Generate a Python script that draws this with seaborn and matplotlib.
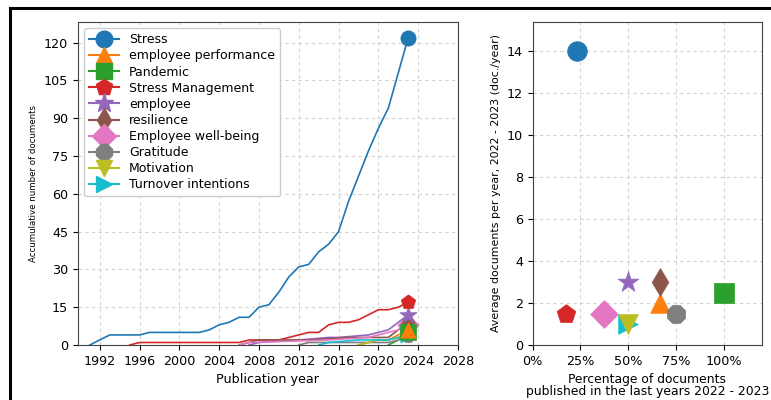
import numpy as np
import pandas as pd
import matplotlib
matplotlib.use("Agg")
import matplotlib.pyplot as plt
from matplotlib.lines import Line2D
from matplotlib.ticker import PercentFormatter
import seaborn as sns

# Keyword names, colours and marker styles
keywords = ["Stress", "employee performance", "Pandemic", "Stress Management",
            "employee", "resilience", "Employee well-being", "Gratitude",
            "Motivation", "Turnover intentions"]
colors = ["#1f77b4", "#ff7f0e", "#2ca02c", "#d62728", "#9467bd",
          "#8c564b", "#e377c2", "#7f7f7f", "#bcbd22", "#17becf"]
markers = ["o", "^", "s", "p", "*", "d", "D", "8", "v", ">"]

# Cumulative document counts per publication year
stress_years = list(range(1991, 2024))
stress_cum = [0, 2, 4, 4, 4, 4, 5, 5, 5, 5, 5, 5, 6, 8, 9, 11, 11, 15, 16, 21,
              27, 31, 32, 37, 40, 45, 57, 67, 77, 86, 94, 108, 122]

perf_years = [2018, 2019, 2020, 2021, 2022, 2023]
perf_cum = [0, 1, 2, 2, 4, 6]

pandemic_years = [2021, 2022, 2023]
pandemic_cum = [0, 2, 5]

stressmgmt_years = list(range(1995, 2024))
stressmgmt_cum = [0, 1, 1, 1, 1, 1, 1, 1, 1, 1, 1, 1, 2, 2, 2, 2, 3, 4, 5, 5,
                  8, 9, 9, 10, 12, 14, 14, 15, 17]

employee_years = [2007, 2008, 2012, 2015, 2016, 2019, 2020, 2021, 2022, 2023]
employee_cum = [0, 1, 2, 3, 3, 4, 5, 6, 9, 12]

resilience_years = [2006, 2007, 2008, 2013, 2017, 2021, 2022, 2023]
resilience_cum = [0, 1, 2, 2, 3, 3, 6, 9]

wellbeing_years = [2006, 2007, 2015, 2019, 2020, 2021, 2022, 2023]
wellbeing_cum = [0, 1, 2, 3, 4, 5, 6, 8]

gratitude_years = [2012, 2013, 2021, 2022, 2023]
gratitude_cum = [0, 1, 1, 2, 4]

motivation_years = [2018, 2019, 2020, 2021, 2022, 2023]
motivation_cum = [0, 1, 2, 2, 3, 4]

turnover_years = [2014, 2015, 2018, 2021, 2022, 2023]
turnover_cum = [0, 1, 2, 2, 3, 4]

series_years = [stress_years, perf_years, pandemic_years, stressmgmt_years,
                employee_years, resilience_years, wellbeing_years,
                gratitude_years, motivation_years, turnover_years]
series_cum = [stress_cum, perf_cum, pandemic_cum, stressmgmt_cum, employee_cum,
              resilience_cum, wellbeing_cum, gratitude_cum, motivation_cum,
              turnover_cum]

# Share of documents published in 2022-2023 and average documents per year
recent_share = [0.23, 0.667, 1.0, 0.176, 0.5, 0.667, 0.375, 0.75, 0.5, 0.5]
recent_rate = [14, 2, 2.5, 1.5, 3, 3, 1.5, 1.5, 1, 1]

fig = plt.figure(figsize=(7.71, 4.0), dpi=100)
ax1 = fig.add_axes([0.101, 0.1375, 0.493, 0.8075])
ax2 = fig.add_axes([0.691, 0.1375, 0.297, 0.8075])

FS = 9.2
grid_kw = dict(color="#d2d2d2", linestyle=(0, (3, 3)), linewidth=0.8)

# Left panel: cumulative counts
for i in range(len(keywords)):
    df = pd.DataFrame({"year": series_years[i], "docs": series_cum[i]})
    sns.lineplot(data=df, x="year", y="docs", ax=ax1, color=colors[i],
                 linewidth=1.2, zorder=2)
for i in reversed(range(len(keywords))):
    last = pd.DataFrame({"year": [series_years[i][-1]],
                         "docs": [series_cum[i][-1]]})
    sns.scatterplot(data=last, x="year", y="docs", ax=ax1, color=colors[i],
                    marker=markers[i], s=120 if markers[i] != "*" else 170,
                    edgecolor=colors[i], linewidth=0.5, zorder=3 + (9 - i))

ax1.set_xlim(1989.8, 2028)
ax1.set_ylim(0, 128.2)
ax1.set_xticks(np.arange(1992, 2029, 4))
ax1.set_yticks(np.arange(0, 121, 15))
ax1.grid(True, **grid_kw)
ax1.set_axisbelow(True)
ax1.tick_params(labelsize=FS)
ax1.set_xlabel("Publication year", fontsize=FS)
ax1.set_ylabel("Accumulative number of documents", fontsize=6.2)

handles = [Line2D([], [], color=colors[i], marker=markers[i],
                  markersize=12 if markers[i] != "*" else 14, linewidth=1.5)
           for i in range(len(keywords))]
ax1.legend(handles, keywords, loc="upper left", fontsize=9,
           handlelength=2.4, labelspacing=0.25, borderpad=0.4,
           framealpha=1.0, edgecolor="#cccccc")

# Right panel: recent activity
order = [0, 1, 2, 3, 4, 5, 6, 7, 9, 8]
for i in order:
    pt = pd.DataFrame({"share": [recent_share[i]], "rate": [recent_rate[i]]})
    sns.scatterplot(data=pt, x="share", y="rate", ax=ax2, color=colors[i],
                    marker=markers[i], s=200 if markers[i] != "*" else 250,
                    edgecolor=colors[i], linewidth=0.5, zorder=3)

ax2.set_xlim(0, 1.2)
ax2.set_ylim(0, 15.4)
ax2.set_xticks([0, 0.25, 0.5, 0.75, 1.0])
ax2.set_yticks(np.arange(0, 15, 2))
ax2.xaxis.set_major_formatter(PercentFormatter(xmax=1.0, decimals=0))
ax2.grid(True, **grid_kw)
ax2.set_axisbelow(True)
ax2.tick_params(labelsize=FS)
ax2.set_xlabel("Percentage of documents\npublished in the last years 2022 - 2023",
               fontsize=8.9, linespacing=0.9)
ax2.set_ylabel("Average documents per year, 2022 - 2023 (doc./year)",
               fontsize=7.9)

for ax in (ax1, ax2):
    for sp in ax.spines.values():
        sp.set_color("#444444")

# Black frame edges along the top and left
fig.add_artist(Line2D([0.013, 1.0], [0.979, 0.979], color="black",
                      linewidth=2.2, transform=fig.transFigure))
fig.add_artist(Line2D([0.0135, 0.0135], [0.0, 0.979], color="black",
                      linewidth=2.2, transform=fig.transFigure))

fig.savefig("out.png", dpi=100)
